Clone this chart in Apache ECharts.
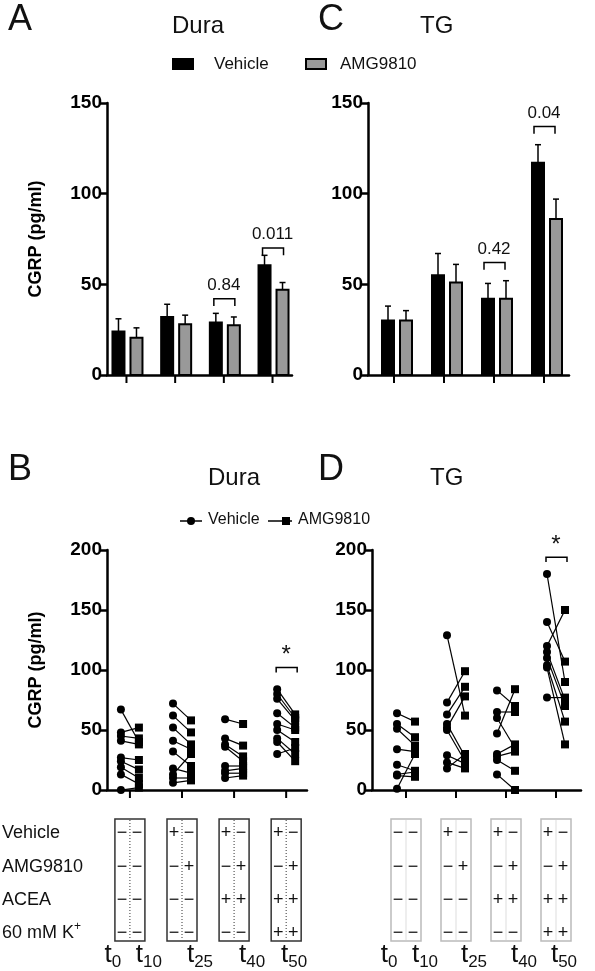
<!DOCTYPE html>
<html>
<head>
<meta charset="utf-8" />
<script src="https://cdn.jsdelivr.net/npm/echarts@6/dist/echarts.min.js"></script>
<style>
  body { margin: 0; background: #fff; }
  #main { width: 595px; height: 971px; }
</style>
</head>
<body>
<div id="main"></div>
<script type="text/javascript">
// panel A / C : mean and error (pg/ml)
var duraVeh = [24, 32, 29, 60.5];
var duraVehErr = [31, 39, 34, 66];
var duraAmg = [20.5, 28, 27.4, 47];
var duraAmgErr = [26, 33, 32, 51];
var tgVeh = [30, 55, 42, 117];
var tgVehErr = [38, 67, 50.5, 127];
var tgAmg = [30, 51, 42, 86];
var tgAmgErr = [35.5, 61, 52, 97];
// brackets: [group, height, label]
var duraBrackets = [[2, 42, '0.84'], [3, 70, '0.011']];
var tgBrackets = [[2, 62, '0.42'], [3, 137, '0.04']];

// panel B / D : paired values per group
var duraPairVeh = [
  [67, 48, 45, 41, 27, 24, 19, 13, 0],
  [72, 62, 52, 41, 32, 18, 13, 10, 6],
  [59, 43, 38, 36, 20, 16, 14, 10],
  [84, 80, 76, 64, 55, 50, 43, 40, 30]
];
var duraPairAmg = [
  [40, 52, 43, 38, 25, 17, 10, 5, 2],
  [58, 48, 38, 34, 20, 14, 30, 10, 8],
  [55, 37, 28, 24, 20, 18, 14, 12],
  [63, 60, 58, 52, 50, 40, 30, 24, 35]
];
var tgPairVeh = [
  [64, 55, 51, 34, 21, 13, 12, 1],
  [129, 73, 63, 55, 52, 50, 29, 23, 18],
  [83, 65, 60, 47, 30, 28, 25, 13],
  [180, 140, 120, 115, 110, 104, 102, 77]
];
var tgPairAmg = [
  [57, 44, 37, 32, 16, 15, 11, 30],
  [62, 99, 86, 28, 78, 24, 22, 18, 30],
  [70, 65, 35, 84, 38, 32, 16, 0],
  [90, 107, 150, 75, 70, 57, 38, 77]
];
var duraStar = [[3, 102, '*']];
var tgStar = [[3, 194, '*']];

// treatment table
var rowLabels = ['Vehicle', 'AMG9810', 'ACEA', '60 mM K{s|+}'];
var boxSigns = [
  ['−−', '−−', '−−', '−−'],
  ['+−', '−+', '−−', '−−'],
  ['+−', '−+', '++', '−−'],
  ['+−', '−+', '++', '++']
];
var timeLabels = ['0', '10', '25', '40', '50'];

var FONT = 'Liberation Sans, Arial, sans-serif';

function barItem(offset) {
  return function (params, api) {
    var x = api.value(0), v = api.value(1), e = api.value(2);
    var base = api.coord([x, 0]);
    var top = api.coord([x, v]);
    var et = api.coord([x, e]);
    var cx = base[0] + offset;
    var kids = [
      { type: 'line', shape: { x1: cx, y1: top[1], x2: cx, y2: et[1] }, style: { stroke: '#000', lineWidth: 1.5 } },
      { type: 'line', shape: { x1: cx - 3, y1: et[1], x2: cx + 3, y2: et[1] }, style: { stroke: '#000', lineWidth: 1.5 } },
      { type: 'rect', shape: { x: cx - 6, y: top[1], width: 12, height: base[1] - top[1] },
        style: { fill: offset < 0 ? '#000' : '#999', stroke: '#000', lineWidth: 2 } }
    ];
    if (offset < 0) {
      kids.push({ type: 'line', shape: { x1: base[0], y1: base[1], x2: base[0], y2: base[1] + 8 }, style: { stroke: '#000', lineWidth: 2 } });
    }
    return { type: 'group', children: kids };
  };
}

function bracketItem(list, size) {
  return function (params, api) {
    var x = api.value(0), h = api.value(1);
    var p = api.coord([x, h]);
    var arm = api.coord([x, h - 4])[1] - p[1];
    var l = p[0] - 10, r = p[0] + 11;
    return { type: 'group', children: [
      { type: 'polyline', shape: { points: [[l, p[1] + arm], [l, p[1]], [r, p[1]], [r, p[1] + arm]] }, style: { stroke: '#000', fill: null, lineWidth: 1.5 } },
      { type: 'text', style: { text: list[params.dataIndex][2], x: p[0], y: p[1] - (size > 18 ? 0 : 5), align: 'center', verticalAlign: 'bottom', font: size + 'px ' + FONT, fill: '#111' } }
    ] };
  };
}

function pairItem(params, api) {
  var x = api.value(0), v = api.value(1), a = api.value(2);
  var pv = api.coord([x, v]), pa = api.coord([x, a]);
  var xv = pv[0] - 9, xa = pa[0] + 9;
  var kids = [
    { type: 'line', shape: { x1: xv, y1: pv[1], x2: xa, y2: pa[1] }, style: { stroke: '#000', lineWidth: 1.2 } },
    { type: 'circle', shape: { cx: xv, cy: pv[1], r: 4 }, style: { fill: '#000' } },
    { type: 'rect', shape: { x: xa - 4, y: pa[1] - 4, width: 8, height: 8 }, style: { fill: '#000' } }
  ];
  if (api.value(3) === 1) {
    var b = api.coord([x, 0]);
    kids.push({ type: 'line', shape: { x1: b[0], y1: b[1], x2: b[0], y2: b[1] + 8 }, style: { stroke: '#000', lineWidth: 2 } });
  }
  return { type: 'group', children: kids };
}

function pairData(veh, amg) {
  var out = [];
  for (var g = 0; g < veh.length; g++) {
    for (var i = 0; i < veh[g].length; i++) {
      out.push([g, veh[g][i], amg[g][i], i === 0 ? 1 : 0]);
    }
  }
  return out;
}

function groupData(vals, errs) {
  return vals.map(function (v, i) { return [i, v, errs[i]]; });
}

var grids = [
  { left: 107, right: 303, top: 103, bottom: 596 },
  { left: 368, right: 26, top: 103, bottom: 596 },
  { left: 107, right: 288, top: 550, bottom: 181 },
  { left: 372, right: 14, top: 550, bottom: 181 }
];
var xRanges = [[-0.4, 3.4], [-0.52, 3.5], [-0.44, 3.4], [-0.68, 3.5]];
var yMax = [150, 150, 200, 200];

var xAxes = [], yAxes = [];
for (var k = 0; k < 4; k++) {
  xAxes.push({ type: 'value', gridIndex: k, min: xRanges[k][0], max: xRanges[k][1],
    axisLine: { onZero: false, lineStyle: { color: '#000', width: 2.5 } }, axisTick: { show: false },
    axisLabel: { show: false }, splitLine: { show: false } });
  yAxes.push({ type: 'value', gridIndex: k, min: 0, max: yMax[k], interval: 50,
    name: (k % 2 === 0) ? 'CGRP (pg/ml)' : '', nameLocation: 'middle', nameGap: 62, nameRotate: 90,
    nameTextStyle: { fontFamily: FONT, fontWeight: 'bold', fontSize: 18, color: '#000' },
    axisLine: { show: true, onZero: false, lineStyle: { color: '#000', width: 2.5 } },
    axisTick: { show: true, length: 7, inside: false, lineStyle: { color: '#000', width: 2.5 } },
    axisLabel: { fontFamily: FONT, fontWeight: 'bold', fontSize: 19, color: '#000', margin: 5 },
    splitLine: { show: false } });
}

var series = [
  { type: 'custom', xAxisIndex: 0, yAxisIndex: 0, renderItem: barItem(-8), data: groupData(duraVeh, duraVehErr), encode: { x: 0, y: [1, 2] } },
  { type: 'custom', xAxisIndex: 0, yAxisIndex: 0, renderItem: barItem(10), data: groupData(duraAmg, duraAmgErr), encode: { x: 0, y: [1, 2] } },
  { type: 'custom', xAxisIndex: 0, yAxisIndex: 0, renderItem: bracketItem(duraBrackets, 17), data: duraBrackets.map(function (d) { return [d[0], d[1]]; }) },
  { type: 'custom', xAxisIndex: 1, yAxisIndex: 1, renderItem: barItem(-6), data: groupData(tgVeh, tgVehErr), encode: { x: 0, y: [1, 2] } },
  { type: 'custom', xAxisIndex: 1, yAxisIndex: 1, renderItem: barItem(12), data: groupData(tgAmg, tgAmgErr), encode: { x: 0, y: [1, 2] } },
  { type: 'custom', xAxisIndex: 1, yAxisIndex: 1, renderItem: bracketItem(tgBrackets, 17), data: tgBrackets.map(function (d) { return [d[0], d[1]]; }) },
  { type: 'custom', xAxisIndex: 2, yAxisIndex: 2, renderItem: pairItem, data: pairData(duraPairVeh, duraPairAmg), encode: { x: 0, y: [1, 2] } },
  { type: 'custom', xAxisIndex: 2, yAxisIndex: 2, renderItem: bracketItem(duraStar, 24), data: duraStar.map(function (d) { return [d[0], d[1]]; }) },
  { type: 'custom', xAxisIndex: 3, yAxisIndex: 3, renderItem: pairItem, data: pairData(tgPairVeh, tgPairAmg), encode: { x: 0, y: [1, 2] } },
  { type: 'custom', xAxisIndex: 3, yAxisIndex: 3, renderItem: bracketItem(tgStar, 24), data: tgStar.map(function (d) { return [d[0], d[1]]; }) }
];

var myChart = echarts.init(document.getElementById('main'));
myChart.setOption({
  animation: false,
  backgroundColor: '#fff',
  grid: grids, xAxis: xAxes, yAxis: yAxes, series: series
});

function txt(t, x, y, size, extra) {
  var s = { text: t, x: x, y: y, font: size + 'px ' + FONT, fill: '#111' };
  for (var key in extra) s[key] = extra[key];
  return { type: 'text', style: s };
}

var g = [];
// panel letters and titles
g.push(txt('A', 8, 2, 36), txt('Dura', 172, 14, 24), txt('C', 318, 2, 36), txt('TG', 420, 14, 24));
g.push(txt('B', 8, 452, 36), txt('Dura', 208, 466, 24), txt('D', 318, 452, 36), txt('TG', 430, 466, 24));
// legend top
g.push({ type: 'rect', shape: { x: 172, y: 58, width: 22, height: 12 }, style: { fill: '#000' } });
g.push(txt('Vehicle', 214, 56, 17));
g.push({ type: 'rect', shape: { x: 306, y: 59, width: 20, height: 10 }, style: { fill: '#999', stroke: '#000', lineWidth: 2 } });
g.push(txt('AMG9810', 340, 56, 17));
// legend bottom
g.push({ type: 'line', shape: { x1: 180, y1: 521, x2: 202, y2: 521 }, style: { stroke: '#000', lineWidth: 1.5 } });
g.push({ type: 'circle', shape: { cx: 191, cy: 521, r: 4 }, style: { fill: '#000' } });
g.push(txt('Vehicle', 208, 512, 16));
g.push({ type: 'line', shape: { x1: 268, y1: 521, x2: 292, y2: 521 }, style: { stroke: '#000', lineWidth: 1.5 } });
g.push({ type: 'rect', shape: { x: 282, y: 517, width: 8, height: 8 }, style: { fill: '#000' } });
g.push(txt('AMG9810', 298, 512, 16));

// table
var rowY = [833, 867, 900, 933];
rowLabels.forEach(function (r, i) {
  g.push({ type: 'text', style: { text: r, x: 2, y: rowY[i], verticalAlign: 'middle', font: '18px ' + FONT, fill: '#111',
    rich: { s: { fontSize: 12, verticalAlign: 'top', padding: [0, 0, 12, 0], fontFamily: FONT } } } });
});
[2, 3].forEach(function (gi, pi) {
  var stroke = pi === 0 ? '#333' : '#bbb';
  var ticks = [];
  for (var c = 0; c < 4; c++) {
    var p = myChart.convertToPixel({ gridIndex: gi }, [c, 0]);
    ticks.push(p[0]);
    var cx = p[0];
    g.push({ type: 'rect', shape: { x: cx - 15, y: 819, width: 30, height: 122 }, style: { fill: null, stroke: stroke, lineWidth: 1.5 } });
    g.push({ type: 'line', shape: { x1: cx, y1: 820, x2: cx, y2: 940 }, style: { stroke: pi === 0 ? '#333' : '#ddd', lineWidth: 1, lineDash: pi === 0 ? [1, 2] : null } });
    for (var r = 0; r < 4; r++) {
      g.push(txt(boxSigns[c][r].charAt(0), cx - 8, rowY[r], 18, { align: 'center', verticalAlign: 'middle' }));
      g.push(txt(boxSigns[c][r].charAt(1), cx + 7, rowY[r], 18, { align: 'center', verticalAlign: 'middle' }));
    }
  }
  var tx = [ticks[0] - 17, ticks[0] + 19, ticks[1] + 18, ticks[2] + 18, ticks[3] + 8];
  timeLabels.forEach(function (t, i) {
    g.push({ type: 'text', style: { text: 't{s|' + t + '}', x: tx[i], y: 955, align: 'center', verticalAlign: 'middle',
      font: '26px ' + FONT, fill: '#111', rich: { s: { fontSize: 17, padding: [14, 0, 0, 0], fontFamily: FONT } } } });
  });
});
myChart.setOption({ graphic: { elements: g } });
</script>
</body>
</html>
